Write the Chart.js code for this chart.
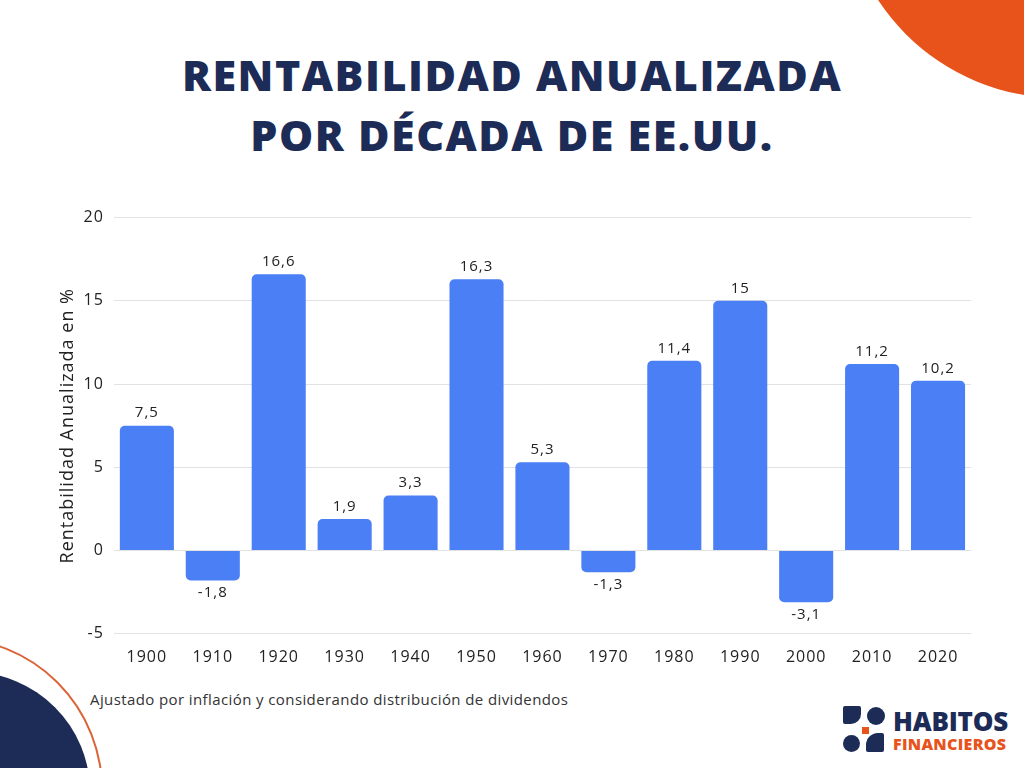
<!DOCTYPE html>
<html>
<head>
<meta charset="utf-8">
<script src="https://cdn.jsdelivr.net/npm/chart.js@4"></script>
<style>
    html, body { margin: 0; padding: 0; }
    body { width: 1024px; height: 768px; position: relative; overflow: hidden; background: #fff; font-family: "Open Sans", sans-serif; }
    .corner-top { position: absolute; left: 842px; top: -338px; width: 436px; height: 436px; border-radius: 50%; background: #e8531c; }
    .blob { position: absolute; left: -150px; top: 672px; width: 240px; height: 240px; border-radius: 50%; background: #1d2b57; }
    .arc { position: absolute; left: -203px; top: 637px; width: 302px; height: 302px; border-radius: 50%; border: 2px solid #d9653a; }
    h1 { position: absolute; left: 0; top: 45px; width: 1024px; margin: 0; text-align: center; color: #1d2b57; font-family: "Open Sans", sans-serif; font-weight: 800; font-size: 43px; line-height: 60px; letter-spacing: 1.5px; }
    #chartBox { position: absolute; left: 0; top: 198px; width: 990px; height: 485px; }
    .note { position: absolute; left: 90px; top: 689px; font-size: 15px; letter-spacing: 0.4px; color: #333; }
    .logo { position: absolute; left: 843px; top: 704px; width: 170px; height: 50px; }
    .logo .sq { position: absolute; left: 0; top: 2px; width: 18px; height: 18px; background: #1d2b57; border-radius: 2px 2px 10px 2px; }
    .logo .c1 { position: absolute; left: 24px; top: 3px; width: 18px; height: 18px; background: #1d2b57; border-radius: 50%; }
    .logo .dot { position: absolute; left: 19px; top: 23px; width: 7px; height: 7px; background: #e8531c; }
    .logo .c2 { position: absolute; left: 0; top: 31px; width: 17px; height: 17px; background: #1d2b57; border-radius: 50%; }
    .logo .q { position: absolute; left: 23px; top: 29px; width: 18px; height: 19px; background: #1d2b57; border-radius: 12px 2px 2px 2px; }
    .logo .t1 { position: absolute; left: 50px; top: 2px; font-size: 26px; font-weight: 800; color: #1d2b57; line-height: 30px; letter-spacing: -0.2px; }
    .logo .t2 { position: absolute; left: 50px; top: 30px; font-size: 16px; font-weight: 800; color: #e8531c; line-height: 20px; letter-spacing: 0.3px; }
</style>
</head>
<body>
<div class="corner-top"></div>
<div class="blob"></div>
<div class="arc"></div>
<h1>RENTABILIDAD ANUALIZADA<br>POR DÉCADA DE EE.UU.</h1>
<div id="chartBox"><canvas id="decadeChart"></canvas></div>
<div class="note">Ajustado por inflación y considerando distribución de dividendos</div>
<div class="logo">
    <div class="sq"></div><div class="c1"></div><div class="dot"></div><div class="c2"></div><div class="q"></div>
    <div class="t1">HABITOS</div>
    <div class="t2">FINANCIEROS</div>
</div>
<script>
    // Data
    const decades = ["1900", "1910", "1920", "1930", "1940", "1950", "1960", "1970", "1980", "1990", "2000", "2010", "2020"];
    const returns = [7.5, -1.8, 16.6, 1.9, 3.3, 16.3, 5.3, -1.3, 11.4, 15, -3.1, 11.2, 10.2];
    const yTicks = [-5, 0, 5, 10, 15, 20];

    // wider lettering, closer to the original's geometric font
    const spacing = {
        id: 'spacing',
        beforeUpdate(chart) { chart.ctx.letterSpacing = '1px'; },
        beforeDraw(chart) { chart.ctx.letterSpacing = '1px'; }
    };

    // Value labels above (or below) each bar, with comma decimals
    const barLabels = {
        id: 'barLabels',
        afterDatasetsDraw(chart) {
            const ctx = chart.ctx;
            const meta = chart.getDatasetMeta(0);
            ctx.save();
            ctx.font = '15px "Open Sans", sans-serif';
            ctx.fillStyle = '#222';
            ctx.textAlign = 'center';
            meta.data.forEach((bar, i) => {
                let v = returns[i];
                let txt = String(v).replace('.', ',');
                if (v >= 0) {
                    ctx.textBaseline = 'bottom';
                    ctx.fillText(txt, bar.x, bar.y - 5);
                } else {
                    ctx.textBaseline = 'top';
                    ctx.fillText(txt, bar.x, bar.y + 5);
                }
            });
            ctx.restore();
        }
    };

    var canvasElement = document.getElementById("decadeChart");
    var config = {
        type: "bar",
        data: {
            labels: decades,
            datasets: [{
                label: "Rentabilidad",
                data: returns,
                backgroundColor: '#4a7ff5',
                borderRadius: 5,
                barPercentage: 0.82,
                categoryPercentage: 1
            }]
        },
        options: {
            responsive: true,
            maintainAspectRatio: false,
            animation: false,
            layout: { padding: { left: 53, right: 19, top: 18, bottom: 10 } },
            plugins: {
                legend: { display: false },
                tooltip: { enabled: false }
            },
            scales: {
                x: {
                    grid: { display: false },
                    border: { display: false },
                    ticks: { color: '#222', font: { size: 16, family: '"Open Sans", sans-serif' }, padding: 6, maxRotation: 0 }
                },
                y: {
                    min: -5,
                    max: 20,
                    afterBuildTicks: axis => { axis.ticks = yTicks.map(v => ({ value: v })); },
                    grid: { color: '#e2e2e2', drawTicks: false },
                    border: { display: false },
                    ticks: { color: '#222', font: { size: 16, family: '"Open Sans", sans-serif' }, padding: 10 },
                    title: {
                        display: true,
                        text: 'Rentabilidad Anualizada en %',
                        color: '#222',
                        padding: { top: 4, bottom: -5 },
                        font: { size: 18, family: '"Open Sans", sans-serif' }
                    }
                }
            }
        },
        plugins: [spacing, barLabels]
    };

    var decadeChart = new Chart(canvasElement, config);
</script>
</body>
</html>
